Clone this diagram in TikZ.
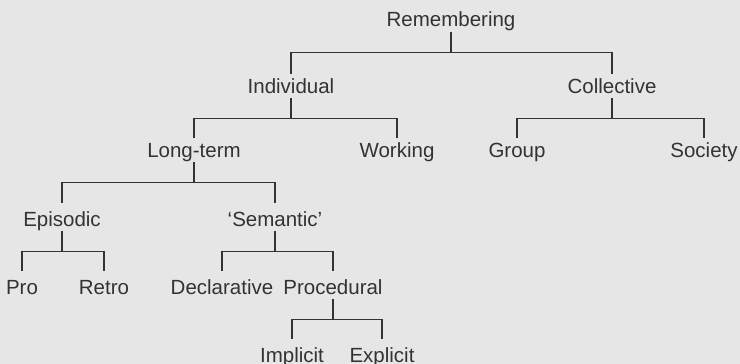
\documentclass[tikz,border=0pt]{standalone}
\usepackage{fontspec}
\setmainfont{Liberation Sans}
\definecolor{bg}{HTML}{E6E6E6}
\definecolor{ink}{HTML}{333333}
\begin{document}
\begin{tikzpicture}[x=1pt,y=-1pt,
  lbl/.style={anchor=base,inner xsep=0pt,inner ysep=5pt,text depth=0pt,
    text=ink,font=\fontsize{20.5pt}{24pt}\selectfont},
  upper/.style={lbl,text height=14pt},
  lower/.style={lbl,text height=18pt},
  link/.style={draw=ink,line width=1.1pt}]
\fill[bg] (0,0) rectangle (740,364);
\useasboundingbox (0,0) rectangle (740,364);

% level 1
\node[upper] (rem) at (451,27) {Remembering};
% level 2
\node[upper] (ind) at (291,93) {Individual};
\node[upper] (col) at (612,93) {Collective};
% level 3
\node[upper] (lt)  at (194,157) {Long-term};
\node[upper] (wrk) at (397,157) {Working};
\node[upper] (grp) at (517,157) {Group};
\node[upper] (soc) at (704,157) {Society};
% level 4
\node[lower] (epi) at (62,226) {Episodic};
\node[lower] (sem) at (275,226) {‘Semantic’};
% level 5
\node[lower] (pro) at (22,294) {Pro};
\node[lower] (ret) at (104,294) {Retro};
\node[lower] (dec) at (222,294) {Declarative};
\node[lower] (prc) at (333,294) {Procedural};
% level 6
\node[lower] (imp) at (292,362) {Implicit};
\node[lower] (exp) at (382,362) {Explicit};

% bracket connectors: stem down from the parent, then across and down to each child
\foreach \p/\c in {rem/ind,rem/col,ind/lt,ind/wrk,col/grp,col/soc,
                   lt/epi,lt/sem,epi/pro,epi/ret,sem/dec,sem/prc,prc/imp,prc/exp}
  \draw[link] (\p.south) -- ++(0,-20pt) -| (\c.north);
\end{tikzpicture}
\end{document}
